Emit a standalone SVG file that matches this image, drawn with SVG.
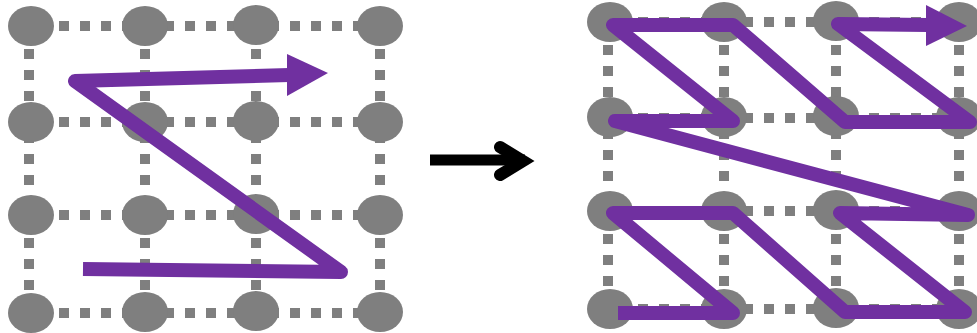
<svg xmlns="http://www.w3.org/2000/svg" width="977" height="333" viewBox="0 0 977 333">
  <style>
    .grid { stroke: #7f7f7f; stroke-width: 10; stroke-dasharray: 10 11; fill: none; }
    .node { fill: #7f7f7f; }
    .path { stroke: #7030a0; stroke-width: 14; fill: none; stroke-linejoin: round; stroke-linecap: butt; }
    .head { fill: #7030a0; }
  </style>
  <rect width="977" height="333" fill="#ffffff"/>

  <!-- Left 4x4 grid: row-by-row scan -->
  <g id="left-grid-lines" class="grid">
    <line x1="38" y1="26" x2="380" y2="26"/>
    <line x1="38" y1="122" x2="380" y2="122"/>
    <line x1="38" y1="215" x2="380" y2="215"/>
    <line x1="38" y1="313" x2="380" y2="313"/>
    <line x1="29" y1="28" x2="29" y2="313"/>
    <line x1="145" y1="28" x2="145" y2="313"/>
    <line x1="256" y1="28" x2="256" y2="313"/>
    <line x1="380" y1="28" x2="380" y2="313"/>
  </g>
  <g id="left-nodes" class="node">
    <g id="L11"><ellipse cx="31" cy="26" rx="23" ry="20"/></g>
    <g id="L12"><ellipse cx="145" cy="26" rx="23" ry="20"/></g>
    <g id="L13"><ellipse cx="256" cy="25" rx="23" ry="20"/></g>
    <g id="L14"><ellipse cx="380" cy="26" rx="23" ry="20"/></g>
    <g id="L21"><ellipse cx="31" cy="122" rx="23" ry="20"/></g>
    <g id="L22"><ellipse cx="145" cy="122" rx="23" ry="20"/></g>
    <g id="L23"><ellipse cx="256" cy="121" rx="23" ry="20"/></g>
    <g id="L24"><ellipse cx="380" cy="122" rx="23" ry="20"/></g>
    <g id="L31"><ellipse cx="31" cy="215" rx="23" ry="20"/></g>
    <g id="L32"><ellipse cx="145" cy="215" rx="23" ry="20"/></g>
    <g id="L33"><ellipse cx="256" cy="214" rx="23" ry="20"/></g>
    <g id="L34"><ellipse cx="380" cy="215" rx="23" ry="20"/></g>
    <g id="L41"><ellipse cx="31" cy="313" rx="23" ry="20"/></g>
    <g id="L42"><ellipse cx="145" cy="312" rx="23" ry="20"/></g>
    <g id="L43"><ellipse cx="256" cy="311" rx="23" ry="20"/></g>
    <g id="L44"><ellipse cx="380" cy="312" rx="23" ry="20"/></g>
  </g>

  <!-- Right 4x4 grid: Z-order (Morton) scan -->
  <g id="right-grid-lines" class="grid">
    <line x1="617" y1="22" x2="959" y2="22"/>
    <line x1="617" y1="118" x2="959" y2="118"/>
    <line x1="617" y1="211" x2="959" y2="211"/>
    <line x1="617" y1="309" x2="959" y2="309"/>
    <line x1="608" y1="24" x2="608" y2="309"/>
    <line x1="724" y1="24" x2="724" y2="309"/>
    <line x1="836" y1="24" x2="836" y2="309"/>
    <line x1="959" y1="24" x2="959" y2="309"/>
  </g>
  <g id="right-nodes" class="node">
    <g id="R11"><ellipse cx="610" cy="22" rx="23" ry="20"/></g>
    <g id="R12"><ellipse cx="724" cy="22" rx="23" ry="20"/></g>
    <g id="R13"><ellipse cx="836" cy="21" rx="23" ry="20"/></g>
    <g id="R14"><ellipse cx="959" cy="22" rx="23" ry="20"/></g>
    <g id="R21"><ellipse cx="610" cy="117" rx="23" ry="20"/></g>
    <g id="R22"><ellipse cx="724" cy="117" rx="23" ry="20"/></g>
    <g id="R23"><ellipse cx="836" cy="116" rx="23" ry="20"/></g>
    <g id="R24"><ellipse cx="959" cy="117" rx="23" ry="20"/></g>
    <g id="R31"><ellipse cx="610" cy="211" rx="23" ry="20"/></g>
    <g id="R32"><ellipse cx="724" cy="211" rx="23" ry="20"/></g>
    <g id="R33"><ellipse cx="836" cy="210" rx="23" ry="20"/></g>
    <g id="R34"><ellipse cx="959" cy="211" rx="23" ry="20"/></g>
    <g id="R41"><ellipse cx="610" cy="309" rx="23" ry="20"/></g>
    <g id="R42"><ellipse cx="724" cy="309" rx="23" ry="20"/></g>
    <g id="R43"><ellipse cx="836" cy="308" rx="23" ry="20"/></g>
    <g id="R44"><ellipse cx="959" cy="309" rx="23" ry="20"/></g>
  </g>

  <g id="connectors">
    <!-- left traversal -->
    <polyline class="path" points="83,269 341,272 75,81 289,75"/>
    <polygon class="head" points="287,54 328,73 287,96"/>

    <!-- right traversal -->
    <polyline class="path" points="618,313 733,313 613,213 733,213 845,312 965,312 840,213 968,215 615,121 733,121 613,25 733,25 845,122 970,122 838,24 928,25"/>
    <polygon class="head" points="926,5 967,26 926,46"/>

    <!-- transition arrow -->
    <line x1="430" y1="160" x2="525" y2="160" stroke="#000" stroke-width="11"/>
    <polyline points="500,147 523,161 500,175" fill="none" stroke="#000" stroke-width="12" stroke-linecap="round" stroke-linejoin="miter"/>
  </g>
</svg>
